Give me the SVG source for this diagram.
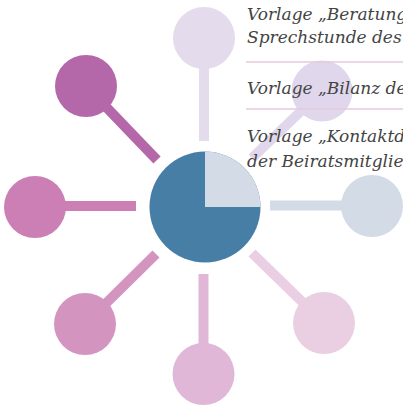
<svg xmlns="http://www.w3.org/2000/svg" width="403" height="406" viewBox="0 0 403 406">
<style>
.sp{stroke-width:10;stroke-linecap:butt;fill:none}
.t{font-family:"DejaVu Serif","Liberation Serif",serif;font-style:italic;font-size:17px;fill:#444444}
.sep{stroke:#e8c9dd;stroke-width:1.5}
</style>
<rect width="403" height="406" fill="#ffffff"/>
<g id="connectors">
<line class="sp" x1="204" y1="141" x2="204" y2="40" stroke="#e4dbed"/>
<line class="sp" x1="252" y1="158" x2="322" y2="91" stroke="#e0d7ec"/>
<line class="sp" x1="270" y1="205.5" x2="372" y2="205.5" stroke="#d3dbe6"/>
<line class="sp" x1="252" y1="253" x2="324" y2="323" stroke="#eacfe3"/>
<line class="sp" x1="203.5" y1="274" x2="203.5" y2="374" stroke="#e0b7d7"/>
<line class="sp" x1="156" y1="254" x2="85" y2="324" stroke="#d394c0"/>
<line class="sp" x1="136" y1="206" x2="35" y2="206" stroke="#cc7fb4"/>
<line class="sp" x1="157" y1="160" x2="86" y2="86" stroke="#b467a9"/>
</g>
<g id="n-top"><circle cx="204" cy="38" r="31" fill="#e4dbed"/></g>
<g id="n-topright"><circle cx="322" cy="91" r="30.5" fill="#e0d7ec"/></g>
<g id="n-right"><circle cx="372" cy="206" r="31" fill="#d3dbe6"/></g>
<g id="n-bottomright"><circle cx="324" cy="323" r="31" fill="#eacfe3"/></g>
<g id="n-bottom"><circle cx="203.5" cy="374" r="31" fill="#e0b7d7"/></g>
<g id="n-bottomleft"><circle cx="85" cy="324" r="31" fill="#d394c0"/></g>
<g id="n-left"><circle cx="35" cy="207" r="31" fill="#cc7fb4"/></g>
<g id="n-topleft"><circle cx="86" cy="86" r="31" fill="#b467a9"/></g>
<g id="n-center">
<circle cx="205" cy="207" r="55.5" fill="#477ea6"/>
<path d="M205 207 L205 151.5 A55.5 55.5 0 0 1 260.5 207 Z" fill="#d3dbe6"/>
</g>
<g id="list">
<line class="sep" x1="246" y1="62" x2="403" y2="62"/>
<line class="sep" x1="246" y1="109" x2="403" y2="109"/>
<text class="t" x="247" y="20">Vorlage „Beratungsbogen</text>
<text class="t" x="247" y="43">Sprechstunde des Beirats</text>
<text class="t" x="247" y="94">Vorlage „Bilanz des</text>
<text class="t" x="247" y="142">Vorlage „Kontaktdaten</text>
<text class="t" x="247" y="167">der Beiratsmitglieder</text>
</g>
</svg>
